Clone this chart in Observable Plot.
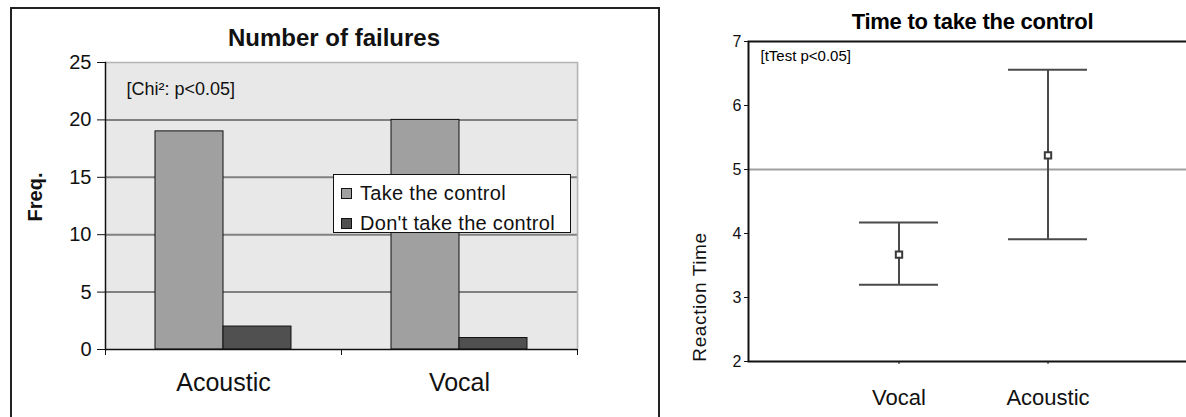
<!DOCTYPE html>
<html><head><meta charset="utf-8">
<script src="https://cdn.jsdelivr.net/npm/d3@7"></script>
<script src="https://cdn.jsdelivr.net/npm/@observablehq/plot@0.6"></script>
<style>
html,body{margin:0;padding:0;background:#fff;overflow:hidden;width:1186px;height:417px;}
#root{position:relative;width:1186px;height:417px;font-family:"Liberation Sans",Arial,sans-serif;color:#111;}
.abs{position:absolute;white-space:nowrap;}
#root svg{position:absolute;top:0;}
.box{position:absolute;left:10px;top:7px;width:646px;height:420px;border:2px solid #222;border-bottom:none;}
.legend{position:absolute;left:333px;top:174px;width:236px;height:57px;border:1.5px solid #111;background:#fff;}
.legend .row{position:absolute;left:7px;height:30px;line-height:30px;font-size:20px;letter-spacing:0.3px;}
.legend .sw{display:inline-block;width:9px;height:9px;border:1px solid #111;margin-right:8px;vertical-align:1px;}
</style></head><body><div id="root"><div class="box"></div></div>
<script>
// ---- Left chart: Number of failures ----
const categories = ["Acoustic", "Vocal"];
const seriesNames = ["Take the control", "Don't take the control"];
const takeValues = [19, 20];
const dontValues = [2, 1];
const seriesColors = ["#a0a0a0", "#505050"];
const freqTicks = [0, 5, 10, 15, 20, 25];
const freqGrid = [5, 10, 15, 20];
const leftTitle = "Number of failures";
const leftYLabel = "Freq.";
const chiNote = "[Chi²: p<0.05]";

// ---- Right chart: Time to take the control ----
const rtCategories = ["Vocal", "Acoustic"];
const rtMean = [3.67, 5.22];
const rtLow = [3.20, 3.91];
const rtHigh = [4.17, 6.56];
const rtTicks = [2, 3, 4, 5, 6, 7];
const rtReference = [5];
const rightTitle = "Time to take the control";
const rightYLabel = "Reaction Time";
const tNote = "[tTest p<0.05]";

const font = '"Liberation Sans", Arial, sans-serif';
const root = document.getElementById("root");

const failData = categories.flatMap((c, i) => [
  {cat: c, series: seriesNames[0], value: takeValues[i]},
  {cat: c, series: seriesNames[1], value: dontValues[i]}
]);

const LW = 658, LML = 105, LMR = 81;
const bandW = (LW - LML - LMR) / categories.length;

const left = Plot.plot({
  width: LW, height: 417,
  marginLeft: LML, marginRight: LMR, marginTop: 62, marginBottom: 68,
  style: {fontFamily: font, background: "transparent", maxWidth: "none", overflow: "visible", color: "#111"},
  fx: {domain: categories, padding: 0},
  x: {domain: seriesNames, paddingInner: 0, paddingOuter: 0.735, axis: null},
  y: {domain: [0, 25]},
  color: {domain: seriesNames, range: seriesColors},
  marks: [
    Plot.frame({fill: "#e8e8e8", stroke: "none", insetRight: -1}),
    Plot.gridY(freqGrid, {stroke: "#808080", strokeOpacity: 1, strokeWidth: 2}),
    Plot.ruleY([25], {stroke: "#b4b4b4", strokeWidth: 1.5}),
    Plot.frame({anchor: "right", facetAnchor: "right", stroke: "#b4b4b4", strokeWidth: 1.5}),
    Plot.barY(failData, {fx: "cat", x: "series", y: "value", fill: "series", stroke: "#111", strokeWidth: 1}),
    Plot.frame({anchor: "left", facetAnchor: "left", stroke: "#111", strokeWidth: 1.5}),
    Plot.ruleY([0], {stroke: "#111", strokeWidth: 1.5}),
    Plot.axisY({ticks: freqTicks, tickSize: 8, tickPadding: 6, fontSize: 20, label: null}),
    Plot.axisFx({anchor: "bottom", tickSize: 0, tickPadding: 24, fontSize: 25, label: null}),
    Plot.axisFx({anchor: "bottom", tickSize: 6, tickFormat: () => "", dx: -bandW / 2, label: null}),
    Plot.axisFx({anchor: "bottom", tickSize: 6, tickFormat: () => "", dx: bandW / 2, label: null}),
    Plot.text([{cat: categories[0], label: chiNote}], {fx: "cat", text: "label", frameAnchor: "top-left", textAnchor: "start", lineAnchor: "top", dx: 21, dy: 20, fontSize: 18})
  ]
});
left.style.left = "0px";
root.appendChild(left);

const rtData = rtCategories.map((c, i) => ({cat: c, mean: rtMean[i], lo: rtLow[i], hi: rtHigh[i]}));

const right = Plot.plot({
  width: 597, height: 417,
  marginLeft: 148, marginRight: 0, marginTop: 41, marginBottom: 56,
  style: {fontFamily: font, background: "transparent", maxWidth: "none", overflow: "visible", color: "#111"},
  x: {domain: rtCategories, type: "band", paddingInner: 0.47, paddingOuter: 0.735},
  y: {domain: [2, 7]},
  marks: [
    Plot.ruleY(rtReference, {stroke: "#a0a0a0", strokeWidth: 2}),
    Plot.ruleX(rtData, {x: "cat", y1: "lo", y2: "hi", stroke: "#4a4a4a", strokeWidth: 2}),
    Plot.tickY(rtData, {x: "cat", y: "hi", stroke: "#4a4a4a", strokeWidth: 2}),
    Plot.tickY(rtData, {x: "cat", y: "lo", stroke: "#4a4a4a", strokeWidth: 2}),
    Plot.dot(rtData, {x: "cat", y: "mean", symbol: "square", r: 3.6, stroke: "#3a3a3a", fill: "white", strokeWidth: 2}),
    Plot.frame({stroke: "#111", strokeWidth: 2}),
    Plot.axisY({ticks: rtTicks, tickFormat: d3.format("d"), tickSize: 4, tickPadding: 3, fontSize: 16, label: null}),
    Plot.axisX({tickSize: 3, tickPadding: 25, fontSize: 22, label: null}),
    Plot.text([tNote], {frameAnchor: "top-left", textAnchor: "start", lineAnchor: "top", dx: 12, dy: 9, fontSize: 15, letterSpacing: "0.9px", fill: "#000"})
  ]
});
right.style.left = "600px";
root.appendChild(right);

// Titles and axis labels
function addText(txt, css) {
  const d = document.createElement("div");
  d.className = "abs";
  d.textContent = txt;
  Object.assign(d.style, css);
  root.appendChild(d);
  return d;
}
addText(leftTitle, {left: "10px", width: "648px", top: "23px", lineHeight: "30px", textAlign: "center", fontSize: "24px", fontWeight: "bold"});
addText(rightTitle, {left: "748px", width: "449px", top: "8px", lineHeight: "28px", textAlign: "center", fontSize: "22px", fontWeight: "bold", letterSpacing: "-0.25px", color: "#000"});
addText(leftYLabel, {left: "35px", top: "197px", fontSize: "20px", fontWeight: "bold", transform: "translate(-50%,-50%) rotate(-90deg)"});
addText(rightYLabel, {left: "700px", top: "297px", fontSize: "19px", letterSpacing: "0.6px", transform: "translate(-50%,-50%) rotate(-90deg)"});

// Legend built from the left chart's color scale
const cs = left.scale("color");
const leg = document.createElement("div");
leg.className = "legend";
cs.domain.forEach((name, i) => {
  const row = document.createElement("div");
  row.className = "row";
  row.style.top = (3 + i * 30) + "px";
  const sw = document.createElement("span");
  sw.className = "sw";
  sw.style.background = cs.range[i];
  row.appendChild(sw);
  row.appendChild(document.createTextNode(name));
  leg.appendChild(row);
});
root.appendChild(leg);
</script></body></html>
